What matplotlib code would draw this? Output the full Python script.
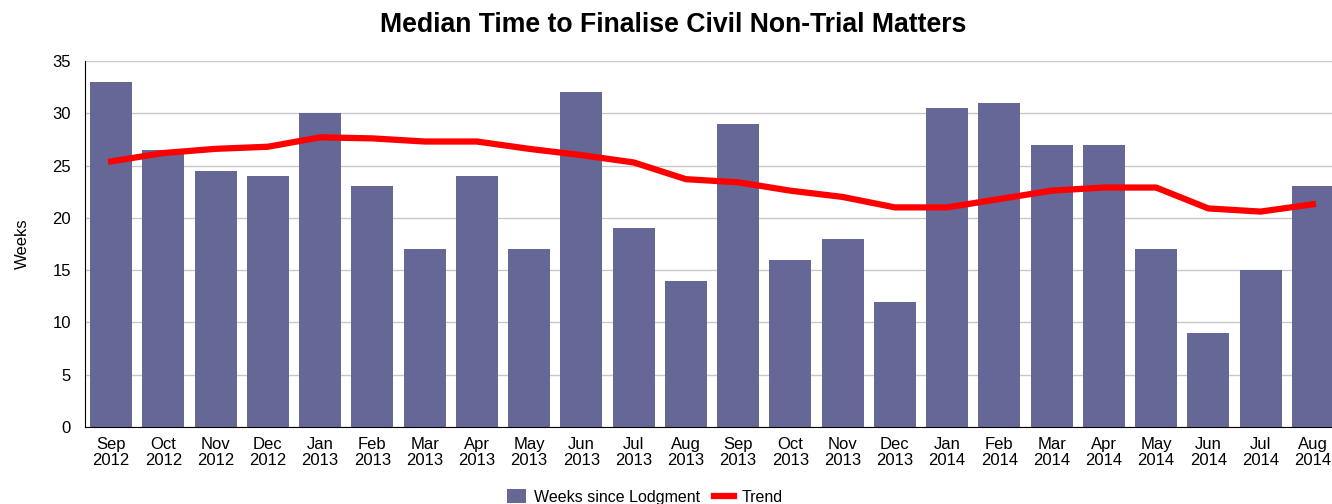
import matplotlib
matplotlib.use("Agg")
import matplotlib.pyplot as plt
import numpy as np

months = ["Sep\n2012", "Oct\n2012", "Nov\n2012", "Dec\n2012", "Jan\n2013", "Feb\n2013",
          "Mar\n2013", "Apr\n2013", "May\n2013", "Jun\n2013", "Jul\n2013", "Aug\n2013",
          "Sep\n2013", "Oct\n2013", "Nov\n2013", "Dec\n2013", "Jan\n2014", "Feb\n2014",
          "Mar\n2014", "Apr\n2014", "May\n2014", "Jun\n2014", "Jul\n2014", "Aug\n2014"]
weeks = [33, 26.5, 24.5, 24, 30, 23, 17, 24, 17, 32, 19, 14,
         29, 16, 18, 12, 30.5, 31, 27, 27, 17, 9, 15, 23]
trend = [25.4, 26.2, 26.6, 26.8, 27.7, 27.6, 27.3, 27.3, 26.6, 26.0, 25.3, 23.7,
         23.4, 22.6, 22.0, 21.0, 21.0, 21.8, 22.6, 22.9, 22.9, 20.9, 20.6, 21.3]

plt.rcParams['font.family'] = ['Liberation Sans', 'DejaVu Sans']

W, H = 1332, 504
fig = plt.figure(figsize=(W/100, H/100), dpi=100)
left, right, top, bottom = 85, 1339, 61, 427
ax = fig.add_axes([left/W, 1-bottom/H, (right-left)/W, (bottom-top)/H])

x = np.arange(len(months))
bars = ax.bar(x, weeks, width=0.8, color='#656797', label='Weeks since Lodgment', zorder=2)
line, = ax.plot(x, trend, color='#ff0000', lw=4.5, label='Trend', zorder=3)

ax.set_xlim(-0.5, len(months)-0.5)
ax.set_ylim(0, 35)
ax.set_yticks(range(0, 36, 5))
ax.set_xticks(x)
ax.set_xticklabels(months, fontsize=12, linespacing=1.1)
ax.tick_params(axis='y', labelsize=12, length=0, pad=10)
ax.tick_params(axis='x', length=0, pad=7)
ax.grid(axis='y', color='#c8c8c8', lw=1, zorder=0)
for s in ['top', 'right']:
    ax.spines[s].set_visible(False)
ax.spines['left'].set_color('black')
ax.spines['bottom'].set_color('black')
ax.set_ylabel('Weeks', fontsize=12, labelpad=16)

fig.text(673/W, 1-25/H, 'Median Time to Finalise Civil Non-Trial Matters',
         ha='center', va='center', fontsize=19.2, fontweight='bold')

fig.legend([bars, line], ['Weeks since Lodgment', 'Trend'], loc='center',
           bbox_to_anchor=(0.484, 1-497/H), ncol=2, frameon=False,
           fontsize=11.5, handlelength=1.2, handleheight=1.0, columnspacing=0.9,
           handletextpad=0.5)

fig.savefig('out.png', dpi=100)
